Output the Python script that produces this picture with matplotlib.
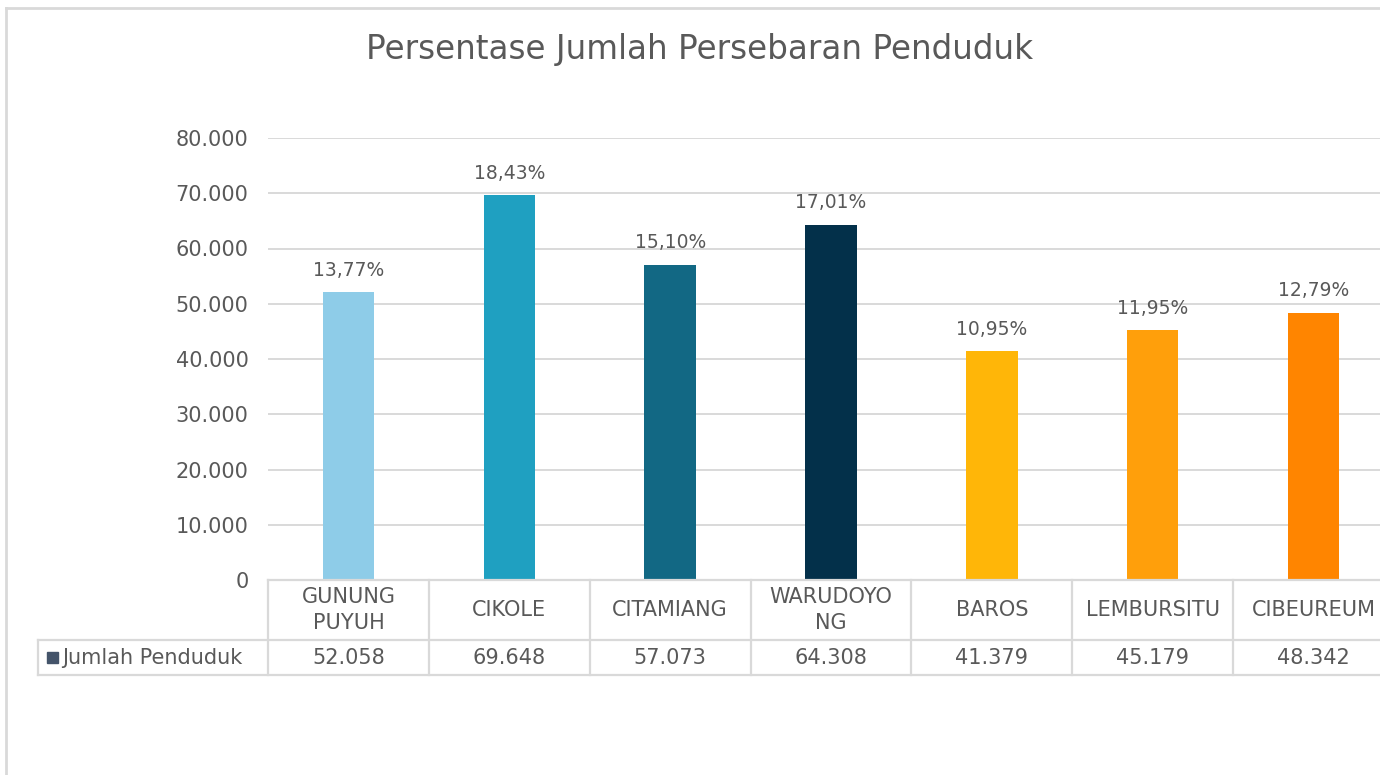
import matplotlib
matplotlib.use("Agg")
import matplotlib.pyplot as plt
from matplotlib.transforms import blended_transform_factory
from matplotlib.patches import Rectangle
from matplotlib.lines import Line2D

categories = ["GUNUNG\nPUYUH", "CIKOLE", "CITAMIANG", "WARUDOYO\nNG", "BAROS", "LEMBURSITU", "CIBEUREUM"]
values = [52058, 69648, 57073, 64308, 41379, 45179, 48342]
value_labels = ["52.058", "69.648", "57.073", "64.308", "41.379", "45.179", "48.342"]
percent_labels = ["13,77%", "18,43%", "15,10%", "17,01%", "10,95%", "11,95%", "12,79%"]
colors = ["#8ECCE8", "#1FA0C1", "#126884", "#03304A", "#FFB608", "#FF9F0B", "#FF8500"]
yticks = [0, 10000, 20000, 30000, 40000, 50000, 60000, 70000, 80000]
ytick_labels = ["0", "10.000", "20.000", "30.000", "40.000", "50.000", "60.000", "70.000", "80.000"]
series_name = "Jumlah Penduduk"
title = "Persentase Jumlah Persebaran Penduduk"

W, H = 1380, 775
plt.rcParams['font.family'] = ['DejaVu Sans']
TXT = "#595959"
GRID = "#D9D9D9"

fig = plt.figure(figsize=(W / 100, H / 100), dpi=100)

def fx(px):
    return px / W

def fy(py):
    return 1 - py / H

ax_left, ax_right, ax_top, ax_bot = 268, 1394, 138, 580
ax = fig.add_axes([fx(ax_left), fy(ax_bot), fx(ax_right - ax_left), (ax_bot - ax_top) / H])
ax.set_xlim(-0.5, len(categories) - 0.5)
ax.set_ylim(0, 80000)
x = list(range(len(categories)))
ax.bar(x, values, width=0.32, color=colors, zorder=3)
for xi, v, p in zip(x, values, percent_labels):
    ax.annotate(p, (xi, v), xytext=(0, 9), textcoords="offset points",
                ha="center", va="bottom", fontsize=13.5, color=TXT)
ax.set_yticks(yticks)
ax.set_yticklabels(ytick_labels, fontsize=15, color=TXT)
ax.tick_params(axis="y", length=0, pad=14)
ax.set_xticks([])
ax.grid(axis="y", color=GRID, linewidth=1.4, zorder=0)
for s in ax.spines.values():
    s.set_visible(False)

# Chart border
fig.add_artist(Line2D([fx(6), fx(6)], [fy(8), fy(790)], color=GRID, lw=2, transform=fig.transFigure))
fig.add_artist(Line2D([fx(6), fx(1400)], [fy(8), fy(8)], color=GRID, lw=2, transform=fig.transFigure))

# Title
fig.text(fx(700), fy(49), title, ha="center", va="center", fontsize=23.5, color=TXT)

# Data table
tr = blended_transform_factory(ax.transData, fig.transFigure)
lc = dict(color=GRID, lw=1.6)
row1_top, row1_bot, row2_bot = 580, 640, 675
fig.add_artist(Line2D([fx(ax_left), fx(1400)], [fy(row1_top)] * 2, transform=fig.transFigure, **lc))
fig.add_artist(Line2D([fx(38), fx(1400)], [fy(row1_bot)] * 2, transform=fig.transFigure, **lc))
fig.add_artist(Line2D([fx(38), fx(1400)], [fy(row2_bot)] * 2, transform=fig.transFigure, **lc))
fig.add_artist(Line2D([fx(38), fx(38)], [fy(row1_bot), fy(row2_bot)], transform=fig.transFigure, **lc))
for i in range(len(categories) + 1):
    fig.add_artist(Line2D([i - 0.5, i - 0.5], [fy(row1_top), fy(row2_bot)], transform=tr, **lc))
for xi, c, vl in zip(x, categories, value_labels):
    fig.text(xi, fy((row1_top + row1_bot) / 2), c, transform=tr, ha="center", va="center",
             fontsize=15, color=TXT, linespacing=1.4)
    fig.text(xi, fy((row1_bot + row2_bot) / 2), vl, transform=tr, ha="center", va="center",
             fontsize=15, color=TXT)
fig.add_artist(Rectangle((fx(47), fy(663)), fx(11), 11 / H, color="#44546A", transform=fig.transFigure))
fig.text(fx(62), fy((row1_bot + row2_bot) / 2), series_name, ha="left", va="center",
         fontsize=15, color=TXT)

fig.savefig("out.png", dpi=100)
